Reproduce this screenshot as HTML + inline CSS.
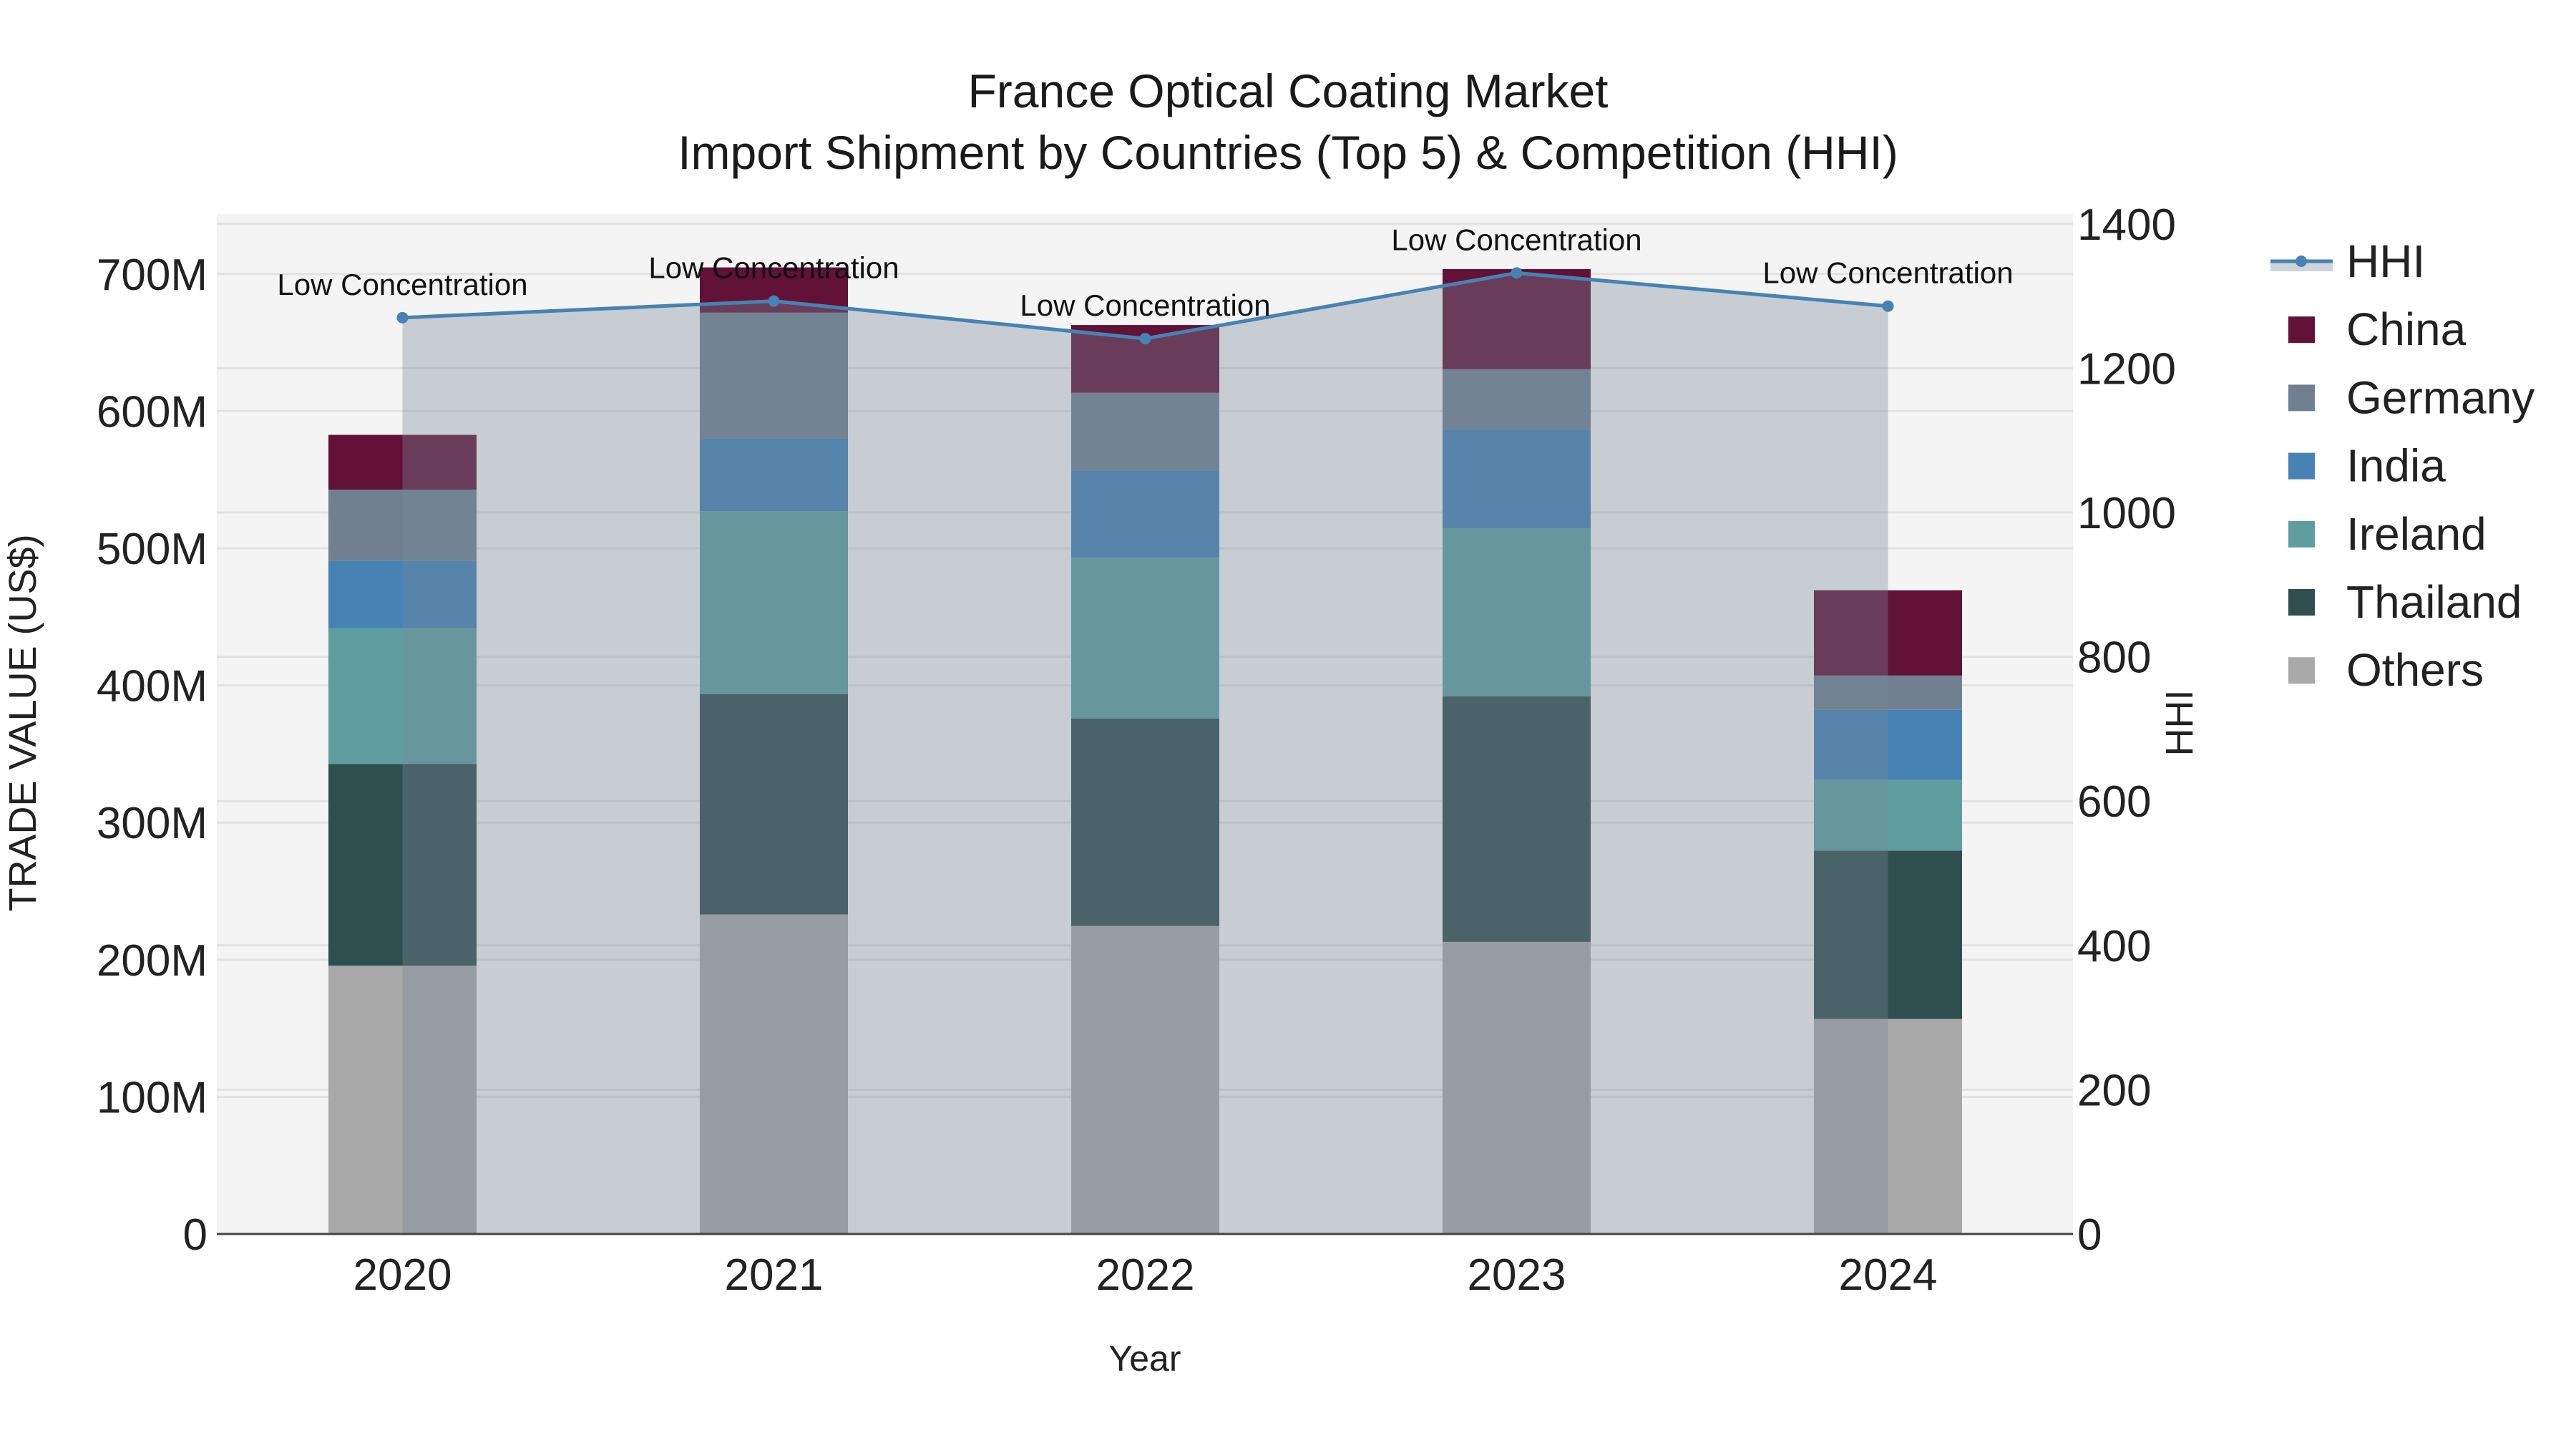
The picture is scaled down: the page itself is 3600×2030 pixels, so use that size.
<!DOCTYPE html>
<html><head><meta charset="utf-8"><style>
html,body{margin:0;padding:0;background:#fff}
svg text{font-family:"Liberation Sans",Arial,sans-serif}
</style></head><body>
<svg id="chart" width="3600" height="2025" viewBox="0 0 3600 2025" xmlns="http://www.w3.org/2000/svg">
<rect x="0" y="0" width="3600" height="2025" fill="#fff"/>
<rect x="303" y="299" width="2594" height="1425" fill="#f4f4f4"/>
<g id="grid"></g>
<g id="bars"></g>
<g id="hhi"></g>
<line x1="303" y1="1724" x2="2897" y2="1724" stroke="#444" stroke-width="3"/>
<g id="axes"></g>
<text x="1800" y="150" font-size="66" text-anchor="middle" fill="#1a1a1a">France Optical Coating Market</text>
<text x="1800" y="236" font-size="66" text-anchor="middle" fill="#1a1a1a">Import Shipment by Countries (Top 5) &amp; Competition (HHI)</text>
<text x="1600" y="1915" font-size="50" text-anchor="middle" fill="#222">Year</text>
<text transform="translate(50,1010) rotate(-90)" font-size="54" text-anchor="middle" fill="#222">TRADE VALUE (US$)</text>
<text transform="translate(3064,1010) rotate(-90)" font-size="54" text-anchor="middle" fill="#222">HHI</text>
<g id="legend"></g>
</svg>
<script>
const years = ["2020","2021","2022","2023","2024"];
const countries = ["Others","Thailand","Ireland","India","Germany","China"];
const colors = ["#a9a9a9","#2f4f4f","#5f9ea0","#4682b4","#708090","#611236"];
const others = [195.6,233,224.6,213,156.8];
const thailand = [147.2,160.7,151.2,179,122.8];
const ireland = [98.9,133.3,117.5,122.6,51.6];
const india = [49.1,53.3,63.1,72.4,51];
const germany = [52,91.5,57,43.6,25];
const china = [39.9,33,49.4,73,62.2];
const hhiValues = [1270,1293,1241,1332,1286];
const hhiLabels = ["Low Concentration","Low Concentration","Low Concentration","Low Concentration","Low Concentration"];
const yTicks = [0,100,200,300,400,500,600,700];
const yTickLabels = ["0","100M","200M","300M","400M","500M","600M","700M"];
const y2Ticks = [0,200,400,600,800,1000,1200,1400];

const NS="http://www.w3.org/2000/svg";
const X0=562.5, DX=519, BW=207, ZERO=1724;
const xPos=i=>X0+i*DX;
const yScale=v=>ZERO-v*1.916;
const y2Scale=v=>ZERO-v*1.008;
function mk(tag,attrs,parent,text){const e=document.createElementNS(NS,tag);for(const k in attrs)e.setAttribute(k,attrs[k]);if(text!==undefined)e.textContent=text;parent.appendChild(e);return e;}

const grid=document.getElementById('grid'), axes=document.getElementById('axes');
yTicks.forEach((t,i)=>{
  const g=mk('line',{x1:303,x2:2897,y1:yScale(t),y2:yScale(t),stroke:'#e2e2e2','stroke-width':3},grid);
  
  
  const tx=mk('text',{x:290,y:yScale(t)+22,'font-size':62,'text-anchor':'end',fill:'#222'},axes,yTickLabels[i]);
  
  
});
y2Ticks.forEach(t=>{
  const g=mk('line',{x1:303,x2:2897,y1:y2Scale(t),y2:y2Scale(t),stroke:'#e2e2e2','stroke-width':3},grid);
  
  
  const tx=mk('text',{x:2903,y:y2Scale(t)+22,'font-size':62,fill:'#222'},axes,String(t));
  
  
});
years.forEach((yr,i)=>{
  const tx=mk('text',{x:xPos(i),y:1802,'font-size':62,'text-anchor':'middle',fill:'#222'},axes,yr);
  
  
});

const series=[others,thailand,ireland,india,germany,china];
const bars=document.getElementById('bars');
years.forEach((yr,i)=>{
  let base=0;
  series.forEach((s,k)=>{
    const top=base+s[i];
    const r=mk('rect',{x:xPos(i)-BW/2,y:yScale(top),width:BW,height:yScale(base)-yScale(top),fill:colors[k]},bars);
    
    
    base=top;
  });
});

const hg=document.getElementById('hhi');
let pts=hhiValues.map((v,i)=>xPos(i)+','+y2Scale(v)).join(' ');
const area=mk('polygon',{points:pts+' '+xPos(hhiValues.length-1)+','+ZERO+' '+xPos(0)+','+ZERO,fill:'rgba(119,136,153,0.36)'},hg);


const line=mk('polyline',{points:pts,fill:'none',stroke:'#4682b4','stroke-width':5},hg);


hhiValues.forEach((v,i)=>{
  const c=mk('circle',{cx:xPos(i),cy:y2Scale(v),r:8,fill:'#4682b4'},hg);
  
  
  const t=mk('text',{x:xPos(i),y:y2Scale(v)-32,'font-size':42,'text-anchor':'middle',fill:'#111'},hg,hhiLabels[i]);
  
  
});

const lg=document.getElementById('legend');
const ly0=365, lstep=95.2;
const hl=mk('rect',{x:3173,y:ly0,width:87,height:14,fill:'rgba(119,136,153,0.36)'},lg);


const hline=mk('line',{x1:3173,x2:3260,y1:ly0,y2:ly0,stroke:'#4682b4','stroke-width':5},lg);


const hc=mk('circle',{cx:3216,cy:ly0,r:8,fill:'#4682b4'},lg);


const ht=mk('text',{x:3279,y:ly0+22,'font-size':64,fill:'#222'},lg,'HHI');


const order=[5,4,3,2,1,0];
order.forEach((k,j)=>{
  const cy=ly0+(j+1)*lstep;
  const sw=mk('rect',{x:3198,y:cy-18,width:37,height:37,fill:colors[k]},lg);
  
  
  const t=mk('text',{x:3279,y:cy+22,'font-size':64,fill:'#222'},lg,countries[k]);
  
  
});
</script>
</body></html>
